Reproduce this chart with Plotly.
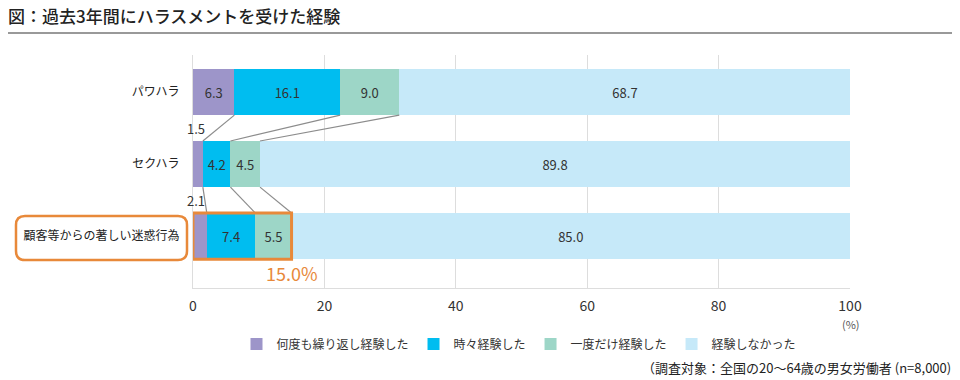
import plotly.graph_objects as go

categories = ["パワハラ", "セクハラ", "顧客等からの著しい迷惑行為"]
series_names = ["何度も繰り返し経験した", "時々経験した", "一度だけ経験した", "経験しなかった"]
repeated = [6.3, 1.5, 2.1]
sometimes = [16.1, 4.2, 7.4]
once = [9.0, 4.5, 5.5]
never = [68.7, 89.8, 85.0]
x_tick_vals = [0, 20, 40, 60, 80, 100]
x_tick_text = ["0", "20", "40", "60", "80", "100"]

title_text = "図：過去3年間にハラスメントを受けた経験"
unit_text = "(%)"
footnote_text = "（調査対象：全国の20～64歳の男女労働者 (n=8,000)"

colors = ["#9D95C9", "#00BDF0", "#9DD6C7", "#C6E9F9"]
orange = "#E8893A"
font_family = "Noto Sans CJK JP"

W, H = 960, 380
ML, MR, MT, MB = 193, 110, 55, 92
PW, PH = W - ML - MR, H - MT - MB


def px(xp):
    return (xp - ML) / PW


def py(yp):
    return (H - MB - yp) / PH


series_values = [repeated, sometimes, once, never]
bar_w = 0.64

fig = go.Figure()
for name, vals, col in zip(series_names, series_values, colors):
    fig.add_trace(go.Bar(
        y=categories, x=vals, name=name, orientation="h",
        marker=dict(color=col, line=dict(width=0)),
        width=bar_w,
        text=[f"{v:.1f}" if v >= 3 else "" for v in vals],
        textposition="inside", insidetextanchor="middle", textangle=0,
        constraintext="none",
        textfont=dict(color="#333333", size=13, family=font_family),
        hoverinfo="skip",
    ))

# cumulative edges
cums = []
for i in range(len(categories)):
    c, s = [], 0
    for vals in series_values[:3]:
        s += vals[i]
        c.append(s)
    cums.append(c)

shapes = []
line_col = "#8C8C8C"
for i in range(len(categories) - 1):
    for k in range(3):
        shapes.append(dict(type="line", xref="x", yref="y",
                           x0=cums[i][k], y0=i + bar_w / 2,
                           x1=cums[i + 1][k], y1=i + 1 - bar_w / 2,
                           line=dict(color=line_col, width=1.2), layer="above"))

last = len(categories) - 1
total_exp = round(sum(v[last] for v in series_values[:3]), 1)
shapes.append(dict(type="rect", xref="x", yref="y",
                   x0=0, x1=total_exp, y0=last - bar_w / 2, y1=last + bar_w / 2,
                   line=dict(color=orange, width=3), layer="above"))

# rounded label box (pixel -> paper)
bx0, bx1, by0, by1, r = 16, 187, 216, 260, 9
pts = [
    ("M", bx0 + r, by0), ("L", bx1 - r, by0), ("Q", bx1, by0, bx1, by0 + r),
    ("L", bx1, by1 - r), ("Q", bx1, by1, bx1 - r, by1), ("L", bx0 + r, by1),
    ("Q", bx0, by1, bx0, by1 - r), ("L", bx0, by0 + r), ("Q", bx0, by0, bx0 + r, by0),
]
path = ""
for p in pts:
    cmd = p[0]
    coords = p[1:]
    seg = cmd
    for j in range(0, len(coords), 2):
        seg += f"{px(coords[j]):.5f},{py(coords[j+1]):.5f} "
    path += seg
path += "Z"
shapes.append(dict(type="path", xref="paper", yref="paper", path=path,
                   line=dict(color=orange, width=2.5), fillcolor="rgba(0,0,0,0)"))

# title rule
shapes.append(dict(type="line", xref="paper", yref="paper",
                   x0=px(8), x1=px(952), y0=py(33), y1=py(33),
                   line=dict(color="#777777", width=1.5)))

annotations = []
# small values above bars
for i, v in enumerate(repeated):
    if v < 3:
        annotations.append(dict(x=0.5, y=i - bar_w / 2, xref="x", yref="y",
                                text=f"{v:.1f}", showarrow=False, yanchor="bottom",
                                xanchor="center", yshift=1,
                                font=dict(size=13, color="#333333", family=font_family)))
annotations.append(dict(x=total_exp, y=last + bar_w / 2, xref="x", yref="y",
                        text=f"{total_exp:.1f}%", showarrow=False, yanchor="top",
                        xanchor="center", yshift=1,
                        font=dict(size=18, color=orange, family=font_family)))
annotations.append(dict(x=px(851), y=py(324), xref="paper", yref="paper",
                        text=unit_text, showarrow=False, xanchor="center", yanchor="middle",
                        font=dict(size=11, color="#555555", family=font_family)))
annotations.append(dict(x=px(953), y=py(367), xref="paper", yref="paper",
                        text=footnote_text, showarrow=False, xanchor="right", yanchor="middle",
                        font=dict(size=13, color="#222222", family=font_family)))

fig.update_layout(
    width=W, height=H,
    margin=dict(l=ML, r=MR, t=MT, b=MB, autoexpand=False),
    barmode="stack",
    paper_bgcolor="white", plot_bgcolor="white",
    font=dict(family=font_family, color="#333333"),
    title=dict(text=title_text, x=8 / W, xanchor="left", y=1 - 17 / H, yanchor="middle",
               font=dict(size=17, color="#222222", family=font_family, weight=500)),
    xaxis=dict(range=[0, 100], tickvals=x_tick_vals, ticktext=x_tick_text,
               showgrid=True, gridcolor="#DDDDDD", gridwidth=1,
               zeroline=False, showline=True, linecolor="#DDDDDD", linewidth=1,
               ticks="", ticklabelstandoff=5,
               tickfont=dict(size=14, color="#333333", family=font_family), fixedrange=True),
    yaxis=dict(type="category", categoryarray=categories,
               range=[2.72, -0.514], showgrid=False, zeroline=False,
               showline=True, linecolor="#DDDDDD", linewidth=1,
               ticks="", ticklabelstandoff=10,
               tickfont=dict(size=12, color="#222222", family=font_family), fixedrange=True),
    legend=dict(orientation="h", x=px(519), xanchor="center", y=py(344), yanchor="middle",
                font=dict(size=12, color="#333333", family=font_family),
                traceorder="normal", bgcolor="rgba(0,0,0,0)"),
    shapes=shapes, annotations=annotations,
    showlegend=True,
)

fig.write_html("out.html", config={"displayModeBar": False},
               post_script="document.body.style.margin='0';")
